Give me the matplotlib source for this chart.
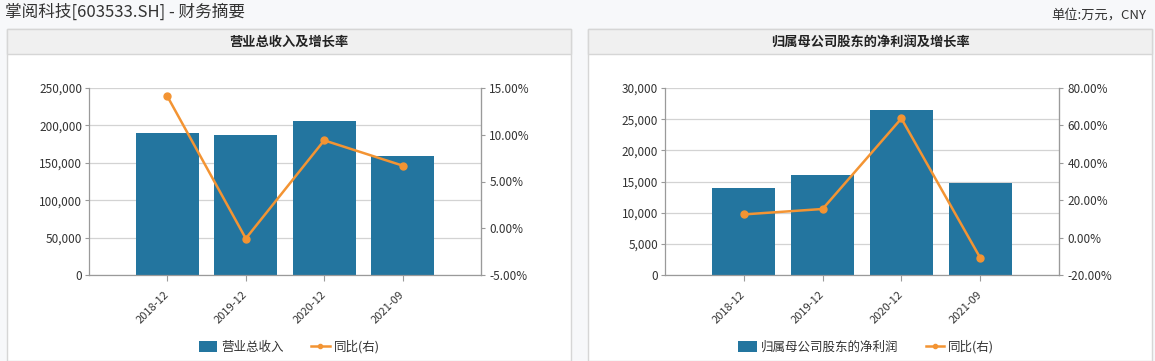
import matplotlib
matplotlib.use("Agg")
import matplotlib.pyplot as plt
from matplotlib.patches import Rectangle, Patch
from matplotlib.lines import Line2D
from matplotlib.ticker import FuncFormatter

plt.rcParams['font.family'] = ['Noto Sans CJK SC', 'DejaVu Sans']

categories = ['2018-12', '2019-12', '2020-12', '2021-09']
revenue = [190400, 187600, 206300, 159700]
revenue_yoy = [14.1, -1.1, 9.4, 6.7]
net_profit = [14000, 16100, 26400, 14800]
profit_yoy = [12.4, 15.3, 63.7, -10.8]

W, H = 1155, 361
BAR = '#23759f'
LINE = '#f39433'
GRID = '#d3d3d3'
TXT = '#333333'

fig = plt.figure(figsize=(W / 100, H / 100), dpi=100, facecolor='#f7f8fa')


def fx(px):
    return px / W


def fy(py):
    return 1 - py / H


def panel(x0, x1, title):
    # white body + grey header strip, kept behind the axes
    fig.patches.append(Rectangle((fx(x0), 0), fx(x1 - x0), fy(29), transform=fig.transFigure,
                                 facecolor='white', edgecolor='#d6d6d6', lw=1, zorder=-10))
    fig.patches.append(Rectangle((fx(x0), fy(54)), fx(x1 - x0), fy(29) - fy(54), transform=fig.transFigure,
                                 facecolor='#f0f0f0', edgecolor='#d6d6d6', lw=1, zorder=-9))
    fig.text(fx((x0 + x1) / 2), fy(42), title, ha='center', va='center',
             fontsize=9.5, fontweight='bold', color='#222222')


def chart(x0, x1, values, yoy, ylim, yticks, rlim, rticks, bar_label):
    ax = fig.add_axes([fx(x0), fy(275), fx(x1 - x0), fy(88) - fy(275)])
    ax.set_facecolor('none')
    x = range(len(categories))
    ax.bar(x, values, width=0.8, color=BAR, zorder=2)
    ax.set_xlim(-1, 4)
    ax.set_ylim(*ylim)
    ax.set_yticks(yticks)
    ax.yaxis.set_major_formatter(FuncFormatter(lambda v, p: f'{v:,.0f}'))
    ax.grid(axis='y', color=GRID, lw=0.9, zorder=0)
    ax.set_axisbelow(True)
    ax.set_xticks(list(x))
    ax.set_xticklabels(categories, rotation=45, ha='right', va='center', rotation_mode='anchor',
                       fontsize=8, color=TXT)
    ax.spines['top'].set_visible(False)
    for s in ['left', 'bottom', 'right']:
        ax.spines[s].set_color('#9a9a9a')
        ax.spines[s].set_linewidth(0.9)
    ax.tick_params(axis='y', labelsize=8.5, colors=TXT, length=3, color='#9a9a9a', pad=2)
    ax.tick_params(axis='x', length=4, color='#9a9a9a', pad=9)

    ax2 = ax.twinx()
    ax2.plot(list(x), yoy, color=LINE, lw=1.8, marker='o', ms=5, zorder=3)
    ax2.set_ylim(*rlim)
    ax2.set_yticks(rticks)
    ax2.yaxis.set_major_formatter(FuncFormatter(lambda v, p: f'{v:.2f}%'))
    ax2.tick_params(axis='y', labelsize=8.5, colors=TXT, length=3, color='#9a9a9a', pad=3)
    for s in ['top', 'left', 'bottom']:
        ax2.spines[s].set_visible(False)
    ax2.spines['right'].set_color('#9a9a9a')

    handles = [Patch(facecolor=BAR, edgecolor='none'),
               Line2D([0], [0], color=LINE, lw=1.8, marker='o', ms=3)]
    fig.legend(handles, [bar_label, '同比(右)'], loc='center',
               bbox_to_anchor=(fx((x0 + x1) / 2) + fx(4), fy(347)), ncol=2, frameon=False,
               fontsize=9, handlelength=1.5, handleheight=0.9, columnspacing=2.2,
               handletextpad=0.3, labelcolor=TXT)


panel(7, 571, '营业总收入及增长率')
panel(588, 1152, '归属母公司股东的净利润及增长率')

chart(89, 481, revenue, revenue_yoy, (0, 250000), range(0, 250001, 50000),
      (-5, 15), [-5, 0, 5, 10, 15], '营业总收入')
chart(665, 1059, net_profit, profit_yoy, (0, 30000), range(0, 30001, 5000),
      (-20, 80), [-20, 0, 20, 40, 60, 80], '归属母公司股东的净利润')

fig.text(fx(5), fy(12), '掌阅科技[603533.SH] - 财务摘要', ha='left', va='center',
         fontsize=12, color='#333333')
fig.text(fx(1146), fy(15), '单位:万元，CNY', ha='right', va='center',
         fontsize=9.5, color='#333333')

fig.savefig('out.png', dpi=100, facecolor=fig.get_facecolor())
